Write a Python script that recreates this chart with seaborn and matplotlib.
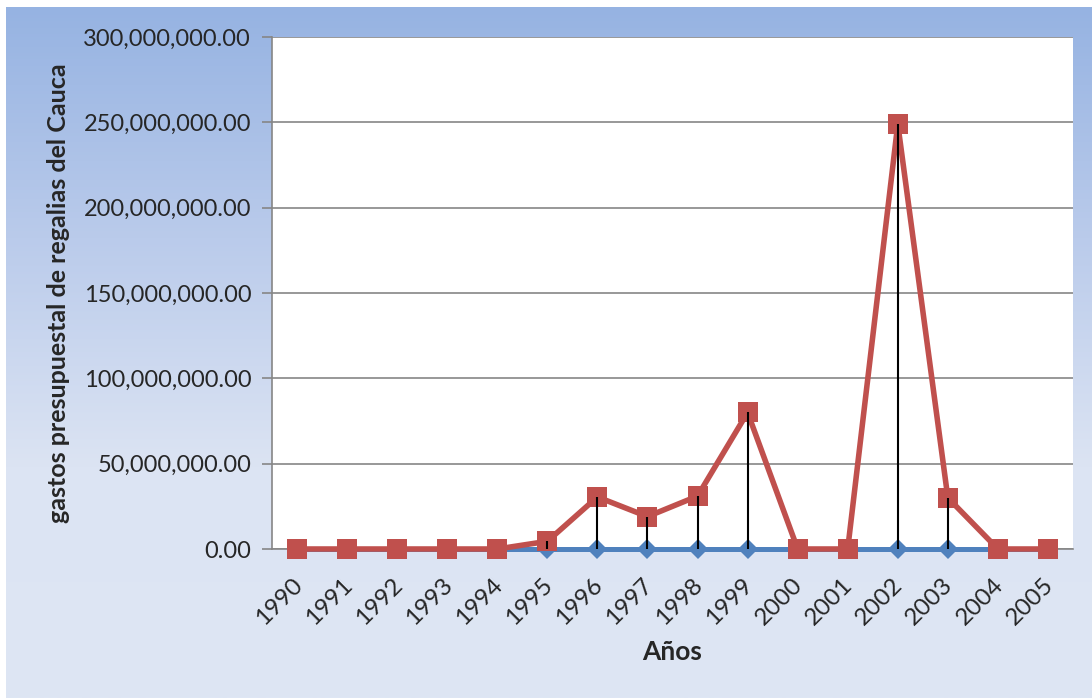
import numpy as np
import pandas as pd
import matplotlib
matplotlib.use("Agg")
import matplotlib.pyplot as plt
import matplotlib.ticker as mticker
from matplotlib.colors import LinearSegmentedColormap
from matplotlib.transforms import ScaledTranslation
import seaborn as sns

years = ["1990", "1991", "1992", "1993", "1994", "1995", "1996", "1997",
         "1998", "1999", "2000", "2001", "2002", "2003", "2004", "2005"]
blue_values = [0, 0, 0, 0, 0, 0, 0, 0, 0, 0, 0, 0, 0, 0, 0, 0]
red_values = [0, 0, 0, 0, 0, 4500000, 30500000, 19000000, 31000000, 80000000,
              0, 0, 249000000, 30000000, 0, 0]
y_ticks = [0, 50000000, 100000000, 150000000, 200000000, 250000000, 300000000]

sns.set_style("white")
plt.rcParams['font.family'] = ['Lato', 'DejaVu Sans']

df = pd.DataFrame({"pos": np.arange(len(years)), "blue": blue_values, "red": red_values})

fig = plt.figure(figsize=(10.92, 6.98), dpi=100)
fig.patch.set_facecolor("white")

# Excel-like gradient chart area
bg = fig.add_axes([6 / 1092, 0, 1, 1 - 7 / 698])
cmap = LinearSegmentedColormap.from_list("bg", ["#96B3E2", "#BACBEB", "#DCE4F3", "#DEE6F4"])
grad = np.linspace(0, 1, 256).reshape(-1, 1)
bg.imshow(grad, aspect="auto", cmap=cmap, extent=[0, 1, 0, 1])
bg.set_axis_off()
bg.set_zorder(-1)

ax = fig.add_axes([272 / 1092, 1 - 549 / 698, (1073 - 272) / 1092, (549 - 37) / 698])
ax.set_facecolor("white")

sns.lineplot(data=df, x="pos", y="blue", ax=ax, color="#4F81BD", linewidth=3.6,
             marker="D", markersize=10, markeredgewidth=0, zorder=3, clip_on=False)
sns.lineplot(data=df, x="pos", y="red", ax=ax, color="#C0504D", linewidth=4,
             marker="s", markersize=14.8, markeredgewidth=0, zorder=4, clip_on=False)
# high-low lines between the two series
ax.vlines(df["pos"], df["blue"], df["red"], colors="black", linewidth=1.5, zorder=5,
          clip_on=False)

ax.set_xlim(-0.5, len(years) - 0.5)
ax.set_ylim(0, 300000000)
ax.set_yticks(y_ticks)
ax.yaxis.set_major_formatter(mticker.FuncFormatter(lambda v, p: f"{v:,.2f}"))
ax.grid(axis="y", color="#868686", linewidth=1.2)
ax.set_axisbelow(True)

ax.set_xticks(df["pos"])
ax.set_xticklabels(years, rotation=45, ha="right", va="top", rotation_mode="anchor")
ax.tick_params(axis="x", length=0, labelsize=17.5, pad=18)
ax.tick_params(axis="y", left=True, length=7, width=1.2, color="#868686", labelsize=17, pad=8)
shift = ScaledTranslation(-4 / 72, 0, fig.dpi_scale_trans)
for lbl in ax.get_xticklabels():
    lbl.set_transform(lbl.get_transform() + shift)

for side in ["top", "right"]:
    ax.spines[side].set_visible(False)
for side in ["left", "bottom"]:
    ax.spines[side].set_color("#868686")
    ax.spines[side].set_linewidth(1.2)

ax.set_xlabel("Años", fontsize=19, weight="bold", labelpad=8)
ax.set_ylabel("gastos presupuestal de regalias del Cauca", fontsize=18, weight="bold", labelpad=10)

fig.savefig("out.png", dpi=100)
